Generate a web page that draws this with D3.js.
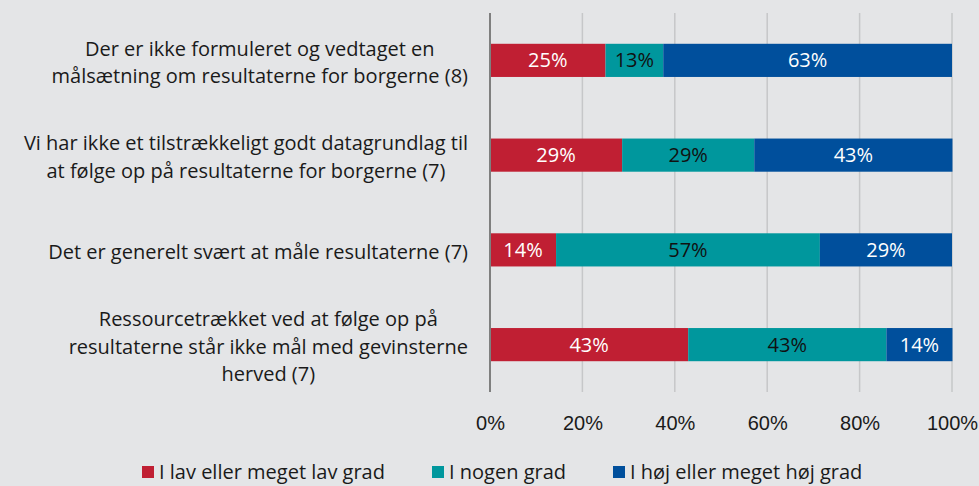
<!DOCTYPE html>
<meta charset="utf-8">
<style>
    body { margin: 0; background: #e4e5e7; }
    svg { display: block; font-family: "Open Sans", sans-serif; }
    .grid line { stroke: #c6c7c9; stroke-width: 1.5px; }
    .tick text { font-size: 20px; fill: #1a1a1a; }
</style>
<svg width="979" height="486"></svg>
<script src="https://d3js.org/d3.v7.min.js"></script>
<script>

    var categories = [
        ["Der er ikke formuleret og vedtaget en", "målsætning om resultaterne for borgerne (8)"],
        ["Vi har ikke et tilstrækkeligt godt datagrundlag til", "at følge op på resultaterne for borgerne (7)"],
        ["Det er generelt svært at måle resultaterne (7)"],
        ["Ressourcetrækket ved at følge op på", "resultaterne står ikke mål med gevinsterne", "herved (7)"]
    ];
    var seriesNames = ["I lav eller meget lav grad", "I nogen grad", "I høj eller meget høj grad"];
    // shares in percent (respondents out of 8 or 7)
    var lowValues = [25, 28.6, 14.3, 42.9];
    var someValues = [12.5, 28.6, 57.1, 42.9];
    var highValues = [62.5, 42.9, 28.6, 14.3];
    var xTicks = [0, 20, 40, 60, 80, 100];

    var colors = ["#c01f33", "#00979d", "#004f9c"],
        labelColors = ["#ffffff", "#111111", "#ffffff"];

    var svg = d3.select("svg"),
        margin = {top: 13, right: 27, bottom: 94, left: 490},
        width = +svg.attr("width") - margin.left - margin.right,
        height = +svg.attr("height") - margin.top - margin.bottom;

    var rows = categories.map(function(c, i) {
        return {idx: i, lines: c, low: lowValues[i], some: someValues[i], high: highValues[i]};
    });
    var keys = ["low", "some", "high"];
    var stacked = d3.stack().keys(keys)(rows);

    var x = d3.scaleLinear().domain([0, 100]).range([0, width]);
    var y = d3.scaleBand().domain(d3.range(rows.length)).range([0, height]).paddingInner(0.65).paddingOuter(0.325);

    var g = svg.append("g").attr("transform", "translate(" + margin.left + "," + margin.top + ")");

    // gridlines
    g.append("g").attr("class", "grid")
        .selectAll("line").data(xTicks.slice(1)).enter().append("line")
        .attr("x1", function(d) { return x(d); }).attr("x2", function(d) { return x(d); })
        .attr("y1", 0).attr("y2", height);

    // tick labels
    var xAxis = d3.axisBottom(x).tickValues(xTicks).tickSize(0).tickPadding(24)
        .tickFormat(function(d) { return d + "%"; });
    g.append("g").attr("transform", "translate(0," + height + ")").call(xAxis)
        .call(function(s) { s.select(".domain").remove(); });

    var layer = g.selectAll(".layer").data(stacked).enter().append("g")
        .attr("class", "layer");

    layer.selectAll("rect").data(function(d) { return d; }).enter().append("rect")
        .attr("x", function(d) { return x(d[0]); })
        .attr("width", function(d) { return x(d[1]) - x(d[0]); })
        .attr("y", function(d) { return y(d.data.idx); })
        .attr("height", y.bandwidth())
        .attr("fill", function(d, i, n) { return colors[keys.indexOf(d3.select(n[i].parentNode).datum().key)]; });

    layer.each(function(s, si) {
        d3.select(this).selectAll("text").data(s).enter().append("text")
            .attr("x", function(d) { return (x(d[0]) + x(d[1])) / 2; })
            .attr("y", function(d) { return y(d.data.idx) + y.bandwidth() / 2; })
            .attr("dy", "0.35em")
            .attr("text-anchor", "middle")
            .attr("font-size", 20)
            .attr("fill", labelColors[si])
            .text(function(d) { return Math.round(d.data[s.key]) + "%"; });
    });

    // axis line
    g.append("line").attr("x1", 0).attr("x2", 0).attr("y1", 0).attr("y2", height)
        .attr("stroke", "#7f7f7f").attr("stroke-width", 2);

    // category labels: block right-aligned, lines centered
    var lineH = 27.5;
    rows.forEach(function(r) {
        var t = svg.append("text").attr("font-size", 20).attr("fill", "#1a1a1a").attr("text-anchor", "middle");
        var cy = margin.top + y(r.idx) + y.bandwidth() / 2 + 2;
        var spans = r.lines.map(function(l, j) {
            return t.append("tspan").attr("y", cy + (j - (r.lines.length - 1) / 2) * lineH).attr("dy", "0.35em").text(l);
        });
        var maxW = d3.max(spans, function(s) { return s.node().getComputedTextLength(); });
        var cx = 468 - maxW / 2;
        spans.forEach(function(s) { s.attr("x", cx); });
    });

    // legend
    var legendX = [142, 432, 613];
    var legend = svg.append("g").selectAll("g").data(seriesNames).enter().append("g")
        .attr("transform", function(d, i) { return "translate(" + legendX[i] + ",466)"; });
    legend.append("rect").attr("width", 12).attr("height", 12)
        .attr("fill", function(d, i) { return colors[i]; });
    legend.append("text").attr("x", 17).attr("y", 6).attr("dy", "0.35em")
        .attr("font-size", 20).attr("fill", "#1a1a1a").text(function(d) { return d; });

</script>
